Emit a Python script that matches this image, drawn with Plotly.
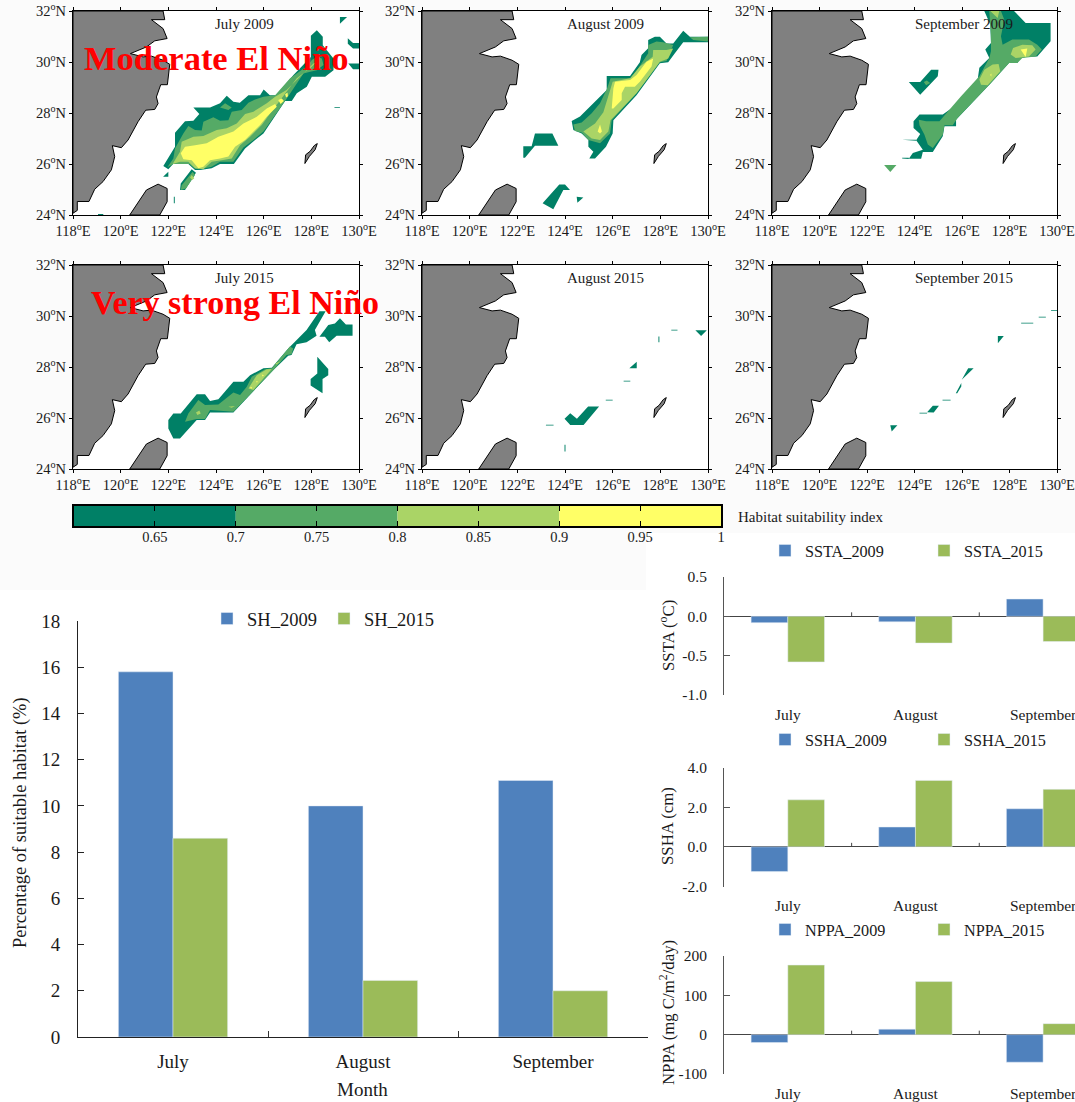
import plotly.graph_objects as go

SERIF = "Liberation Serif"
W, H = 1075, 1102

# ---------- geography (lon, lat) ----------
CHINA = [(118,32),(121.78,32),(121.85,31.66),(121.29,31.66),(121.78,31.31),(121.95,30.92),(121.43,30.83),(121.08,30.59),(120.41,30.33),(120.94,30.20),(121.29,30.23),(121.78,30.07),(122.06,29.91),(121.96,29.11),(121.68,29.11),(121.50,28.63),(121.57,28.37),(121.43,28.14),(121.05,28.11),(120.73,27.66),(120.31,26.94),(120.03,26.64),(119.65,26.72),(119.75,26.29),(119.61,25.77),(119.26,25.31),(118.91,25.01),(118.67,24.53),(118.18,24.53),(118.18,24.18),(118,24.07),(118,32)]
TAIWAN = [(120.38,24),(120.80,24.59),(121.08,24.98),(121.57,25.21),(121.95,25.04),(121.95,24.52),(121.64,24),(120.38,24)]
OKINAWA = [(127.73,26.02),(127.76,26.36),(127.95,26.5),(128.12,26.72),(128.25,26.80),(128.16,26.56),(127.92,26.3),(127.73,26.02)]

# ---------- habitat suitability contours: lists of polygons per level ----------
JUL09_L1 = [
 [(121.79,25.92),(122.07,26.35),(122.28,26.68),(122.28,27.23),(122.70,27.68),(123.05,27.70),(123.30,27.96),(123.05,28.22),(123.75,28.22),(124.17,28.38),(124.45,28.68),(124.73,28.44),(125.0,28.40),(125.36,28.70),(125.85,28.70),(126.0,28.92),(126.26,28.70),(126.52,28.70),(127.25,29.49),(127.98,30.20),(127.98,31.03),(128.23,31.25),(128.48,30.99),(128.48,30.66),(128.93,30.14),(128.93,29.68),(128.58,29.42),(128.02,29.42),(127.81,29.03),(127.39,28.77),(127.18,28.47),(126.9,28.47),(125.99,27.20),(125.64,26.94),(125.22,26.61),(124.75,26.0),(124.17,26.0),(123.82,25.83),(123.33,25.76),(123.12,25.76),(122.84,26.0),(122.2,26.0),(122.0,25.79)],
 [(122.98,25.79),(123.16,25.66),(122.70,24.98),(122.49,24.98),(122.52,25.24)],
 [(121.78,25.5),(122.0,25.7),(122.0,25.5)],
 [(122.23,24.72),(122.27,24.72),(122.27,24.46),(122.23,24.46)],
 [(119.05,24),(119.27,24),(119.27,24.04),(119.05,24.04)],
 [(129.2,31.76),(129.5,31.76),(129.2,31.5)],
 [(129.53,30.93),(129.53,30.72),(129.75,30.53),(130,30.53),(130,30.75),(129.75,30.75)],
 [(129.55,29.94),(130,29.94),(130,29.72),(129.75,29.72)],
 [(128.97,28.23),(129.2,28.23),(129.2,28.2),(128.97,28.2)],
]
JUL09_L2 = [
 [(121.96,25.87),(122.21,26.22),(122.28,26.61),(122.63,27.2),(122.84,27.49),(123.12,27.33),(123.40,27.31),(123.47,27.66),(123.89,27.83),(124.17,27.70),(124.52,27.72),(124.66,28.05),(125.08,28.12),(125.36,28.40),(125.64,28.53),(125.99,28.64),(126.48,28.70),(127.11,29.36),(127.88,29.88),(128.02,30.08),(128.23,30.21),(128.44,30.14),(128.51,29.88),(128.23,29.68),(127.95,29.62),(127.67,29.55),(127.25,28.96),(126.97,28.57),(125.99,27.27),(125.57,26.94),(125.15,26.65),(124.73,26.09),(124.17,26.09),(123.82,25.89),(123.33,25.79),(123.12,25.81),(122.88,26.0),(122.21,26.0)],
 [(123.02,25.7),(122.56,25.17),(122.52,24.98),(122.74,25.04),(123.12,25.57)],
 [(124.17,28.22),(124.38,28.38),(124.66,28.22),(124.52,28.12)],
]
JUL09_L3 = [
 [(122.18,26.0),(122.49,26.48),(122.56,26.87),(123.05,27.07),(123.47,27.10),(124.03,27.33),(124.45,27.40),(124.87,27.59),(125.22,27.96),(125.57,28.05),(126.13,28.38),(126.48,28.64),(126.96,28.9),(128.09,29.94),(128.23,30.01),(128.02,29.81),(127.39,29.36),(126.90,28.77),(126.27,27.98),(125.92,27.53),(125.43,27.07),(125.01,26.74),(124.66,26.22),(124.24,26.15),(123.82,26.09),(123.47,25.79),(123.12,25.83),(122.84,26.09),(122.49,26.09)],
 [(122.98,25.57),(123.09,25.44),(123.0,25.37),(122.91,25.47)],
]
JUL09_L4 = [
 [(122.52,26.42),(122.70,26.68),(123.12,26.74),(123.61,26.81),(124.10,27.07),(124.73,27.27),(125.15,27.59),(125.71,27.85),(126.13,28.18),(126.48,28.35),(126.55,28.25),(126.13,27.85),(125.85,27.53),(125.22,26.94),(124.80,26.68),(124.52,26.29),(124.17,26.22),(123.75,26.15),(123.47,25.89),(123.26,25.83),(122.98,26.15),(122.63,26.19)],
 [(126.61,28.51),(126.76,28.57),(126.85,28.47),(126.71,28.35)],
 [(126.9,28.74),(127.0,28.8),(127.02,28.66),(126.94,28.61)],
]

AUG09_L1 = [
 [(124.28,27.69),(124.63,27.86),(125.75,28.90),(125.75,29.45),(126.73,29.45),(127.14,29.99),(127.21,30.27),(127.49,30.54),(127.49,30.86),(127.77,30.99),(127.98,30.99),(128.26,30.73),(128.54,30.73),(128.96,31.23),(129.24,30.99),(130,30.99),(130,30.77),(128.96,30.77),(128.61,30.34),(128.33,29.99),(127.98,29.95),(127.0,28.7),(126.03,27.72),(126.0,27.2),(125.72,26.68),(125.26,26.22),(125.02,26.22),(125.19,26.48),(124.98,26.68),(124.98,26.94),(124.70,27.2),(124.35,27.33)],
 [(122.74,27.2),(123.47,27.2),(123.72,26.72),(122.74,26.72),(122.32,26.25),(122.25,26.25),(122.25,26.7),(122.60,26.7)],
 [(123.76,25.2),(124.0,25.2),(124.21,24.98),(123.93,24.98),(123.51,24.23),(123.06,24.46)],
 [(124.49,24.72),(124.77,24.69),(124.52,24.48)],
]
AUG09_L2 = [
 [(124.35,27.55),(124.7,27.63),(125.12,27.99),(125.47,28.38),(125.77,28.97),(125.91,29.36),(126.8,29.36),(127.21,29.95),(127.49,30.34),(127.49,30.67),(127.84,30.80),(128.12,30.77),(128.54,30.67),(128.26,30.04),(127.98,29.99),(127.0,28.77),(125.96,27.72),(125.89,27.2),(125.47,26.81),(124.98,26.94),(124.7,27.24),(124.42,27.29)],
 [(129.24,30.97),(130,30.99),(130,30.80),(129.38,30.86)],
]
AUG09_L3 = [
 [(124.77,27.27),(125.26,27.59),(125.61,28.03),(125.82,28.7),(126.0,29.23),(126.73,29.36),(127.14,29.82),(127.68,30.21),(127.70,30.47),(128.26,30.47),(128.54,30.53),(128.33,30.14),(127.98,30.01),(127.0,28.77),(125.91,27.72),(125.82,27.27),(125.47,26.94),(125.12,27.0)],
]
AUG09_L4 = [
 [(125.96,28.18),(126.03,28.97),(126.10,29.23),(126.73,29.29),(127.0,29.49),(127.42,30.01),(127.70,30.14),(127.63,29.82),(127.14,29.23),(126.93,29.03),(126.52,29.03),(126.38,28.77),(126.38,28.51),(126.03,28.18)],
 [(125.37,27.27),(125.47,27.55),(125.55,27.27),(125.47,27.2)],
]

SEP09_L1 = [
 [(126.94,32),(128.19,32),(128.68,31.53),(129.73,31.53),(129.73,30.81),(129.17,30.22),(128.68,30.2),(128.47,30.16),(128.33,29.96),(127.98,29.96),(127.22,29.18),(125.75,27.74),(125.75,27.48),(125.26,27.48),(125.19,27.09),(124.77,26.47),(124.35,26.47),(124.28,26.21),(123.76,26.21),(123.93,26.43),(124.35,26.56),(124.07,26.93),(124.24,27.18),(123.96,27.41),(123.96,27.68),(124.21,27.94),(125.19,27.94),(125.68,28.26),(126.66,29.31),(126.73,29.77),(127.15,30.16),(126.98,30.49),(127.22,30.75),(127.19,31.47)],
 [(123.48,26.95),(124.07,26.95),(124.07,26.91),(123.48,26.93)],
 [(123.48,26.25),(123.76,26.25),(123.76,26.2),(123.48,26.22)],
 [(123.76,29.22),(124.24,29.22),(124.70,29.70),(125.01,29.70),(124.98,29.44),(124.24,28.72)],
]
SEP09_L2 = [
 [(127.15,32),(127.64,32),(127.78,31.66),(127.64,31.01),(127.71,30.68),(128.12,30.88),(128.82,30.88),(129.17,30.68),(129.36,30.49),(129.1,30.22),(128.54,30.16),(128.33,29.96),(127.98,29.96),(127.22,29.18),(125.82,27.81),(125.61,27.52),(125.26,27.52),(125.19,27.15),(124.77,26.63),(124.56,26.76),(124.42,27.15),(124.21,27.52),(124.18,27.74),(124.49,27.68),(125.05,27.68),(125.96,28.66),(126.73,29.44),(127.15,30.16),(127.22,30.42),(127.22,31.07)],
 [(124.39,29.22),(124.52,29.27),(124.66,29.18),(124.49,29.09)],
 [(122.72,25.96),(123.24,25.96),(122.98,25.69)],
]
SEP09_L3 = [
 [(127.19,32),(127.57,32),(127.5,31.73),(127.31,31.88)],
 [(126.8,29.11),(126.73,29.31),(126.94,29.7),(127.29,29.9),(127.54,29.92),(127.61,29.64),(127.08,29.09)],
 [(128.05,30.29),(128.15,30.55),(128.54,30.68),(128.96,30.66),(129.1,30.49),(128.82,30.22),(128.54,30.19),(128.26,30.16)],
]
SEP09_L4 = [
 [(127.19,29.5),(127.24,29.55),(127.23,29.42)],
 [(128.47,30.49),(128.75,30.53),(128.68,30.2),(128.61,30.29)],
]

JUL15_L1 = [
 [(122.0,25.92),(122.21,26.18),(122.52,26.18),(123.19,26.93),(123.54,26.93),(123.75,26.67),(124.1,26.74),(124.73,27.42),(125.15,27.42),(125.43,27.68),(125.99,27.95),(126.34,27.97),(127.03,28.73),(127.8,29.45),(128.34,30.19),(128.6,30.19),(128.15,29.45),(128.22,29.23),(127.8,28.97),(127.38,28.89),(127.17,28.47),(127.03,28.44),(126.41,27.88),(124.73,26.22),(123.75,26.22),(123.54,25.92),(123.19,25.92),(122.49,25.2),(122.21,25.2),(122.0,25.59)],
 [(128.34,29.19),(128.71,29.65),(128.99,29.71),(129.2,29.91),(129.45,29.67),(129.73,29.67),(129.73,29.23),(129.06,29.23),(128.75,28.97),(128.57,29.19)],
 [(128.25,28.4),(128.71,27.92),(128.71,27.68),(128.47,27.53),(128.47,26.97),(127.97,27.27),(127.97,27.53),(128.25,27.75)],
]
JUL15_L2 = [
 [(122.7,25.85),(122.84,26.18),(123.26,26.71),(123.54,26.51),(124.1,26.53),(124.73,27.0),(125.01,26.9),(125.29,27.23),(125.5,27.62),(126.06,27.91),(126.34,27.95),(127.1,28.8),(127.24,28.73),(127.17,28.5),(126.96,28.47),(126.41,27.88),(124.73,26.25),(123.75,26.31),(123.54,25.96),(123.19,25.96)],
]
JUL15_L3 = [
 [(125.36,27.16),(125.5,27.36),(125.71,27.68),(126.13,27.91),(126.34,27.92),(125.57,27.1)],
 [(123.16,26.22),(123.3,26.29),(123.36,26.18),(123.22,26.12)],
 [(124.52,26.44),(124.8,26.47),(124.66,26.4)],
 [(126.48,28.14),(126.71,28.23),(126.55,28.1)],
]
JUL15_L4 = [
 [(125.43,27.23),(125.52,27.2),(125.47,27.14)],
 [(125.92,27.71),(126.01,27.68),(125.96,27.63)],
 [(125.69,27.45),(125.76,27.43),(125.71,27.38)],
]

AUG15_L1 = [
 [(123.98,25.97),(124.22,26.19),(124.5,25.97),(124.97,26.45),(125.43,26.45),(124.78,25.73),(124.22,25.73)],
 [(123.2,25.74),(123.52,25.74),(123.52,25.71),(123.2,25.71)],
 [(123.98,24.95),(124.02,24.95),(124.02,24.69),(123.98,24.69)],
 [(125.71,26.72),(126.0,26.72),(126.0,26.69),(125.71,26.69)],
 [(126.46,27.46),(126.74,27.46),(126.74,27.43),(126.46,27.43)],
 [(126.7,27.95),(127.01,28.21),(127.01,27.95)],
 [(127.92,29.2),(127.96,29.2),(127.96,28.97),(127.92,28.97)],
 [(128.46,29.46),(128.72,29.46),(128.72,29.43),(128.46,29.43)],
 [(129.47,29.44),(129.95,29.44),(129.71,29.22)],
]
SEP15_L1 = [
 [(122.98,25.72),(123.28,25.72),(123.04,25.47)],
 [(124.21,26.21),(124.53,26.21),(124.53,26.18),(124.21,26.18)],
 [(124.53,26.23),(124.77,26.48),(125.03,26.48),(124.81,26.22)],
 [(125.18,26.72),(125.52,26.72),(125.52,26.69),(125.18,26.69)],
 [(125.74,26.97),(125.97,27.37),(125.97,27.24),(125.8,26.97)],
 [(125.99,27.5),(126.26,27.95),(126.49,27.95),(126.03,27.5)],
 [(127.51,29.22),(127.76,29.22),(127.51,28.93)],
 [(128.49,29.74),(129.0,29.74),(129.0,29.71),(128.49,29.71)],
 [(129.23,29.97),(129.53,29.97),(129.53,29.94),(129.23,29.94)],
 [(129.75,30.24),(130,30.24),(130,30.21),(129.75,30.21)],
]

MAP_TITLES = ["July 2009", "August 2009", "September 2009", "July 2015", "August 2015", "September 2015"]
MAP_LEVELS = [
 [JUL09_L1, JUL09_L2, JUL09_L3, JUL09_L4],
 [AUG09_L1, AUG09_L2, AUG09_L3, AUG09_L4],
 [SEP09_L1, SEP09_L2, SEP09_L3, SEP09_L4],
 [JUL15_L1, JUL15_L2, JUL15_L3, JUL15_L4],
 [AUG15_L1, [], [], []],
 [SEP15_L1, [], [], []],
]
LON_TICKS = [118, 120, 122, 124, 126, 128, 130]
LAT_TICKS = [24, 26, 28, 30, 32]

# ---------- colour bar ----------
LEVEL_EDGES = [0.6, 0.7, 0.8, 0.9, 1.0]
LEVEL_COLORS = ["#008066", "#55AA66", "#AAD466", "#FFFF66"]
CBAR_TICKS = [0.65, 0.7, 0.75, 0.8, 0.85, 0.9, 0.95, 1]
CBAR_LABELS = ["0.65", "0.7", "0.75", "0.8", "0.85", "0.9", "0.95", "1"]

# ---------- bar charts ----------
MONTHS = ["July", "August", "September"]
SH_2009 = [15.8, 10.0, 11.1]
SH_2015 = [8.6, 2.45, 2.0]
SSTA_2009 = [-0.08, -0.07, 0.22]
SSTA_2015 = [-0.58, -0.34, -0.32]
SSHA_2009 = [-1.25, 1.0, 1.92]
SSHA_2015 = [2.37, 3.35, 2.9]
NPPA_2009 = [-20, 14, -70]
NPPA_2015 = [177, 135, 28]
BLUE, GREEN = "#4F81BD", "#9BBB59"

def fx(p): return p / W
def fy(p): return 1 - p / H

fig = go.Figure()
layout = dict(
    width=W, height=H, margin=dict(l=0, r=0, t=0, b=0, autoexpand=False), autosize=False,
    paper_bgcolor="white", plot_bgcolor="white",
    font=dict(family=SERIF, color="#1a1a1a"),
    barmode="group", bargap=0.425, bargroupgap=0, hovermode=False,
)
shapes = [
    dict(type="rect", xref="paper", yref="paper", x0=0, x1=1, y0=fy(533), y1=1,
         fillcolor="#fbfbfb", line_width=0, layer="below"),
    dict(type="rect", xref="paper", yref="paper", x0=0, x1=fx(646), y0=fy(590), y1=fy(533),
         fillcolor="#fbfbfb", line_width=0, layer="below"),
]
anns = []

def note(text, x, y, size, color="#1a1a1a", angle=0, xanchor="center"):
    anns.append(dict(text=text, xref="paper", yref="paper", x=fx(x), y=fy(y), xanchor=xanchor, yanchor="middle",
                     textangle=angle, showarrow=False, font=dict(family=SERIF, size=size, color=color)))

def poly_xy(polys):
    xs, ys = [], []
    for p in polys:
        xs += [c[0] for c in p] + [p[0][0], None]
        ys += [c[1] for c in p] + [p[0][1], None]
    return xs, ys

MAP_X = [(73, 359), (422, 708), (772, 1057)]
MAP_Y = [(11, 215), (265, 469)]
TITLE_FRAC = [0.60, 0.64, 0.675]
lon_text = [f"{v}<sup>o</sup>E" for v in LON_TICKS]
lat_text = [f"{v}<sup>o</sup>N" for v in LAT_TICKS]

n = 0
for r, (yt, yb) in enumerate(MAP_Y):
    for c, (xl, xr) in enumerate(MAP_X):
        n += 1
        ax = "" if n == 1 else str(n)
        xa, ya = "x" + ax, "y" + ax
        shapes.append(dict(type="rect", xref="paper", yref="paper", x0=fx(xl), x1=fx(xr),
                           y0=fy(yb), y1=fy(yt), fillcolor="white", line_width=0, layer="below"))
        for polys, col in zip(MAP_LEVELS[n - 1], LEVEL_COLORS):
            if not polys:
                continue
            xs, ys = poly_xy(polys)
            fig.add_trace(go.Scatter(x=xs, y=ys, xaxis=xa, yaxis=ya, mode="lines", fill="toself",
                                     fillcolor=col, line=dict(width=0, color=col), showlegend=False))
        xs, ys = poly_xy([CHINA, TAIWAN, OKINAWA])
        fig.add_trace(go.Scatter(x=xs, y=ys, xaxis=xa, yaxis=ya, mode="lines", fill="toself",
                                 fillcolor="#808080", line=dict(width=1, color="black"), showlegend=False))
        common = dict(showgrid=False, zeroline=False, showline=True, linecolor="black", linewidth=1,
                      mirror="allticks", ticks="outside", ticklen=3, tickcolor="black",
                      tickfont=dict(family=SERIF, size=14.5, color="#1a1a1a"))
        layout["xaxis" + ax] = dict(common, domain=[fx(xl), fx(xr)], range=[118, 130], anchor=ya,
                                    tickvals=LON_TICKS, ticktext=lon_text)
        layout["yaxis" + ax] = dict(common, domain=[fy(yb), fy(yt)], range=[24, 32], anchor=xa,
                                    tickvals=LAT_TICKS, ticktext=lat_text)
        anns.append(dict(text=MAP_TITLES[n - 1], xref=xa + " domain", yref=ya + " domain", xanchor="center",
                         yanchor="middle", x=TITLE_FRAC[c], y=0.935, showarrow=False,
                         font=dict(family=SERIF, size=15, color="#1a1a1a")))

# colour bar
fig.add_trace(go.Bar(y=[0, 0, 0, 0], x=[LEVEL_EDGES[i + 1] - LEVEL_EDGES[i] for i in range(4)],
                     base=LEVEL_EDGES[:4], width=[1, 1, 1, 1], orientation="h",
                     marker=dict(color=LEVEL_COLORS, line_width=0), xaxis="x7", yaxis="y7", showlegend=False))
layout["xaxis7"] = dict(domain=[fx(74), fx(721)], range=[0.6, 1], anchor="y7", tickvals=CBAR_TICKS,
                        ticktext=CBAR_LABELS, ticks="inside", ticklen=5, tickcolor="black", showgrid=False,
                        zeroline=False, showline=True, linecolor="black", linewidth=1.5, mirror="allticks",
                        ticklabelstandoff=-3, tickfont=dict(family=SERIF, size=14.5, color="#1a1a1a"))
layout["yaxis7"] = dict(domain=[fy(526), fy(506)], range=[-0.5, 0.5], anchor="x7", showticklabels=False,
                        ticks="", showgrid=False, zeroline=False, showline=True, linecolor="black",
                        linewidth=1.5, mirror=True)
note("Habitat suitability index", 736, 517, 15, xanchor="left")

# left bar chart
fig.add_trace(go.Bar(x=MONTHS, y=SH_2009, name="SH_2009", marker_color=BLUE, xaxis="x8", yaxis="y8",
                     legend="legend"))
fig.add_trace(go.Bar(x=MONTHS, y=SH_2015, name="SH_2015", marker_color=GREEN, xaxis="x8", yaxis="y8",
                     legend="legend"))
layout["xaxis8"] = dict(domain=[fx(78), fx(648)], anchor="y8", type="category", tickson="boundaries",
                        ticks="inside", ticklen=6, tickcolor="#333", showline=True, linecolor="#222", linewidth=1,
                        showgrid=False, zeroline=False, ticklabelstandoff=7,
                        tickfont=dict(family=SERIF, size=19, color="#1a1a1a"))
layout["yaxis8"] = dict(domain=[fy(1037), fy(621)], range=[0, 18], anchor="x8", tickvals=list(range(0, 19, 2)),
                        ticks="inside", ticklen=6, tickcolor="#222", showline=True, linecolor="#222", linewidth=1,
                        showgrid=False, zeroline=False, ticklabelstandoff=13,
                        tickfont=dict(family=SERIF, size=19, color="#1a1a1a"))
note("Percentage of suitable habitat (%)", 20, 823, 18.5, angle=-90)
note("Month", 362, 1089, 19)
layout["legend"] = dict(orientation="h", x=fx(207), y=fy(619), xanchor="left", yanchor="middle",
                        bgcolor="rgba(0,0,0,0)", entrywidth=72, entrywidthmode="pixels", traceorder="normal",
                        font=dict(family=SERIF, size=18.5, color="#1a1a1a"))

# right-hand anomaly charts
RIGHT = [
    ("SSTA", SSTA_2009, SSTA_2015, (577, 695), [-1, 0.5], [-1, -0.5, 0, 0.5], ["-1.0", "-0.5", "0.0", "0.5"],
     "SSTA (<sup>o</sup>C)", 636, 551),
    ("SSHA", SSHA_2009, SSHA_2015, (767.5, 886.5), [-2, 4], [-2, 0, 2, 4], ["-2.0", "0.0", "2.0", "4.0"],
     "SSHA (cm)", 826, 740),
    ("NPPA", NPPA_2009, NPPA_2015, (956, 1074), [-100, 200], [-100, 0, 100, 200], ["-100", "0", "100", "200"],
     "NPPA (mg C/m<sup>2</sup>/day)", 1013, 930),
]
for i, (nm, a, b, (yt, yb), rng, tv, tt, lab, laby, legy) in enumerate(RIGHT):
    k = 9 + i
    xa, ya, lg = f"x{k}", f"y{k}", f"legend{i + 2}"
    fig.add_trace(go.Bar(x=MONTHS, y=a, name=nm + "_2009", marker_color=BLUE, xaxis=xa, yaxis=ya, legend=lg))
    fig.add_trace(go.Bar(x=MONTHS, y=b, name=nm + "_2015", marker_color=GREEN, xaxis=xa, yaxis=ya, legend=lg))
    layout[f"xaxis{k}"] = dict(domain=[fx(724), 1], range=[-0.5, 2.25], type="category", anchor=ya, showgrid=False,
                               showline=False, ticks="", zeroline=False, ticklabelstandoff=8,
                               tickfont=dict(family=SERIF, size=15.5, color="#1a1a1a"))
    layout[f"yaxis{k}"] = dict(domain=[fy(yb), fy(yt)], range=rng, anchor=xa, tickvals=tv, ticktext=tt,
                               ticks="inside", ticklen=6, tickcolor="#555", showline=True, linecolor="#555",
                               linewidth=1, showgrid=False, zeroline=True, zerolinecolor="#444", zerolinewidth=1,
                               ticklabelstandoff=13, tickfont=dict(family=SERIF, size=15.5, color="#1a1a1a"))
    for sep in (0.5, 1.5):
        shapes.append(dict(type="line", xref=xa, yref=ya, x0=sep, x1=sep, ysizemode="pixel", yanchor=0,
                           y0=0, y1=4, line=dict(color="#444", width=1)))
    note(lab, 667, laby, 16.8, angle=-90)
    layout[lg] = dict(orientation="h", x=fx(765), y=fy(legy), xanchor="left", yanchor="middle",
                      bgcolor="rgba(0,0,0,0)", entrywidth=114, entrywidthmode="pixels", traceorder="normal",
                      font=dict(family=SERIF, size=16.2, color="#1a1a1a"))

# red captions
note("<b>Moderate El Niño</b>", 216, 58, 34.5, color="#FF0000")
note("<b>Very strong El Niño</b>", 235, 303, 34, color="#FF0000")

layout["shapes"] = shapes
layout["annotations"] = anns
fig.update_layout(**layout)
fig.write_html("out.html", config={"displayModeBar": False},
               post_script="document.body.style.margin='0';document.body.style.overflow='hidden';")
